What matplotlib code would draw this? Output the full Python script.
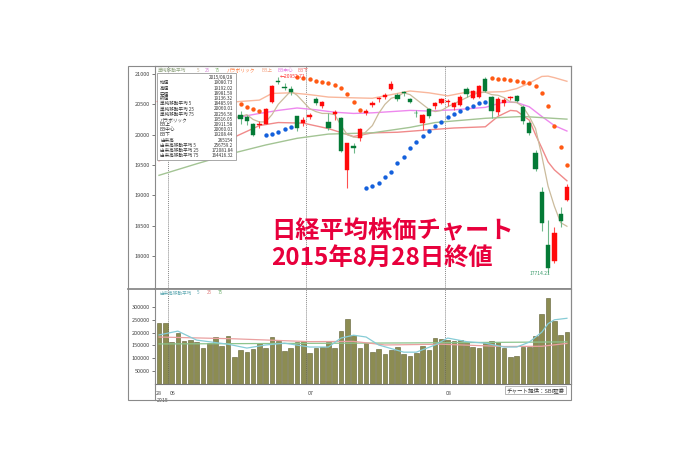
import numpy as np
import pandas as pd
import matplotlib
matplotlib.use("Agg")
import matplotlib.pyplot as plt
from matplotlib.patches import Rectangle
from matplotlib.lines import Line2D

plt.rcParams['font.family'] = ['Noto Sans CJK JP', 'DejaVu Sans']

# ---------------- data ----------------
dates = pd.bdate_range('2015-05-28', '2015-08-28')
dates = dates[dates != pd.Timestamp('2015-07-20')]  # 海の日

opens = [20540, 20580, 20570, 20600, 20490, 20530, 20480, 20470, 20310, 20040, 20280, 20470, 20250,
         20330, 20290, 20180, 20160, 20180, 20540, 20890, 20790, 20760,
         20300, 20190, 20290, 20580, 20470, 20210, 20340, 20270, 19420, 19815, 19950, 20350, 20490, 20580,
         20620, 20755, 20650, 20700, 20590, 20360, 20195, 20420, 20470, 20520,
         20540, 20460, 20490, 20750, 20605, 20620, 20920, 20620, 20380, 20530, 20600, 20640, 20460, 20200,
         19700, 19060, 18180, 17910, 18690, 18930]
highs = [20600, 20655, 20600, 20650, 20520, 20590, 20530, 20520, 20340, 20120, 20420, 20480, 20390,
         20390, 20320, 20200, 20220, 20440, 20820, 20952, 20860, 20800,
         20300, 20290, 20360, 20620, 20560, 20360, 20400, 20290, 19870, 19870, 20110, 20420, 20560, 20620,
         20680, 20890, 20680, 20720, 20610, 20400, 20340, 20440, 20540, 20600,
         20580, 20540, 20650, 20790, 20730, 20820, 20946, 20640, 20620, 20610, 20640, 20660, 20490, 20230,
         19740, 19140, 18600, 18480, 18800, 19192]
lows = [20510, 20540, 20490, 20500, 20390, 20450, 20420, 20420, 20060, 19930, 20270, 20380, 20190,
        20170, 20160, 19980, 20110, 20170, 20530, 20840, 20740, 20650,
        20060, 20150, 20260, 20490, 20440, 20080, 20250, 19720, 19115, 19690, 19900, 20320, 20450, 20540,
        20590, 20740, 20560, 20640, 20520, 20290, 20080, 20270, 20430, 20500,
        20480, 20400, 20480, 20620, 20580, 20600, 20700, 20280, 20325, 20480, 20570, 20540, 20180, 20000,
        19400, 18420, 17714, 17880, 18480, 18900]
closes = [20551, 20563, 20569, 20543, 20473, 20488, 20460, 20457, 20096, 20046, 20382, 20407, 20387,
          20257, 20219, 19990, 20174, 20428, 20809, 20868, 20771, 20706,
          20110, 20235, 20329, 20522, 20539, 20112, 20376, 19737, 19855, 19779, 20089, 20385, 20520, 20600,
          20650, 20836, 20593, 20683, 20544, 20350, 20328, 20302, 20523, 20585,
          20548, 20520, 20614, 20664, 20724, 20808, 20720, 20392, 20595, 20570, 20620, 20554, 20222, 20033,
          19435, 18540, 17806, 18376, 18574, 19136]

volume = [238000, 238000, 162000, 200000, 167000, 171000, 164000, 139000, 160000, 182000, 149000,
          188000, 106000, 132000, 123000, 135000, 159000, 139000, 183000, 167000, 128000, 140000,
          164000, 167000, 122000, 139000, 146000, 162000, 139000, 206000, 253000,
          191000, 139000, 160000, 125000, 136000, 118000, 132000, 144000, 116000, 110000, 120000,
          148000, 132000, 180000, 175000, 171000, 167000, 171000, 164000, 146000, 139000, 158000,
          168000, 164000, 139000, 106000, 111000, 145000, 146000, 188000, 271000, 334000, 245000,
          191000, 204000]

sma5 = [20540, 20560, 20560, 20560, 20540, 20530, 20500, 20480, 20400, 20310, 20290, 20280, 20280,
        20300, 20330, 20250, 20210, 20210, 20330, 20500, 20610, 20720, 20650, 20540, 20430, 20380,
        20350, 20350, 20330, 20150, 20000, 19960, 19950, 20050, 20150, 20350, 20500, 20600, 20630,
        20690, 20660, 20580, 20500, 20420, 20380, 20400, 20460, 20510, 20560, 20610, 20660, 20690,
        20700, 20660, 20650, 20610, 20540, 20530, 20460, 20300, 20100, 19650, 19150, 18820, 18550, 18490]

sma75_idx = [0, 6, 12, 17, 22, 27, 34, 40, 44, 52, 58, 65]
sma75 = [19330, 19520, 19700, 19830, 19940, 20010, 20030, 20120, 20200, 20270, 20300, 20256]

bb_up_idx = [0, 4, 8, 12, 16, 18, 21, 24, 27, 30, 34, 37, 40, 43, 46, 49, 52, 55, 57, 59, 61, 62, 63, 65]
bb_up = [20650, 20700, 20720, 20540, 20570, 20680, 20690, 20660, 20620, 20610, 20600, 20660, 20720,
         20690, 20640, 20700, 20700, 20710, 20760, 20850, 20960, 20965, 20940, 20880]
bb_mid_idx = [0, 4, 8, 12, 16, 19, 22, 25, 28, 31, 34, 37, 40, 43, 47, 52, 55, 57, 59, 61, 63, 65]
bb_mid = [20300, 20330, 20300, 20275, 20350, 20400, 20440, 20410, 20370, 20350, 20360, 20380, 20400,
          20390, 20410, 20450, 20540, 20530, 20460, 20300, 20150, 20060]
bb_lo_idx = [0, 4, 8, 12, 16, 19, 23, 27, 31, 34, 38, 43, 47, 52, 54, 56, 57, 59, 60, 61, 62, 63, 65]
bb_lo = [19570, 19700, 19850, 19960, 20150, 20200, 20190, 20100, 19970, 20030, 20040, 20080, 20110,
         20130, 20300, 20400, 20390, 20240, 20000, 19780, 19550, 19420, 19240]

sar_short_idx = [13, 14, 15, 16, 22, 23, 24, 25, 26, 27, 28, 29, 30, 31, 32,
                 53, 54, 55, 56, 57, 58, 59, 60, 61, 62, 63, 64, 65]
sar_short = [20506, 20456, 20423, 20390, 20951, 20934, 20918, 20885, 20868, 20852, 20819, 20770, 20670,
             20540, 20410, 20934, 20918, 20910, 20901, 20885, 20868, 20852, 20802, 20687, 20473, 20143,
             19797, 19500]
sar_long_idx = [17, 18, 19, 20, 21] + list(range(33, 53))
sar_long = [19995, 20011, 20044, 20094, 20127,
            19125, 19160, 19210, 19300, 19380, 19530, 19630, 19780, 19880, 19978, 20060, 20143, 20209,
            20291, 20340, 20390, 20440, 20473, 20522, 20539]

vma5_idx = [0, 3, 6, 11, 14, 17, 20, 24, 27, 29, 31, 33, 35, 39, 41, 44, 46, 49, 52, 55, 57, 59, 61, 62, 63, 65]
vma5 = [191000, 206000, 171000, 155000, 140000, 152000, 159000, 144000, 144000, 179000, 190000, 183000,
        152000, 124000, 124000, 152000, 179000, 165000, 159000, 144000, 144000, 163000, 202000, 235000,
        250000, 256000]
vma25_idx = [0, 12, 24, 31, 36, 45, 55, 61, 65]
vma25 = [183000, 176000, 165000, 166000, 152000, 155000, 146000, 147000, 158000]
vma75_idx = [0, 20, 40, 65]
vma75 = [156000, 158000, 160000, 164000]

info_rows = [("始値", "19080.73"), ("高値", "19192.02"), ("安値", "18981.59"), ("終値", "19136.32"),
             ("単純移動平均 5", "18485.99"), ("単純移動平均 25", "20060.01"), ("単純移動平均 75", "20256.56"),
             ("パラボリック", "19516.05"), ("BB上", "20911.58"), ("BB中心", "20060.01"), ("BB下", "19208.44"),
             ("出来高", "265154"), ("出来高移動平均 5", "256759.2"), ("出来高移動平均 25", "172081.84"),
             ("出来高移動平均 75", "164416.32")]

price_ticks = [18000, 18500, 19000, 19500, 20000, 20500, 21000]
vol_ticks = [50000, 100000, 150000, 200000, 250000, 300000]

# ---------------- figure ----------------
W, H = 700, 467
fig = plt.figure(figsize=(7, 4.67), dpi=100)
fig.patch.set_facecolor('white')


def fx(px):
    return px / W


def fy(py):
    return 1 - py / H


ax = fig.add_axes([fx(155), fy(289), fx(571) - fx(155), fy(66) - fy(289)])
axv = fig.add_axes([fx(155), fy(384), fx(571) - fx(155), fy(289) - fy(384)])

x = np.arange(len(opens))
o = np.array(opens); c = np.array(closes)
up = c >= o
red = '#ff0a0a'
green = '#047a36'
col = np.where(up, red, green)
wick_col = np.where(up, '#ff5050', '#6fb88a')

# month separators
months = np.array([d.month for d in dates])
bounds = [i - 0.5 for i in range(1, len(dates)) if months[i] != months[i - 1]]

for a in (ax, axv):
    for b in bounds:
        a.axvline(b, color='#888888', ls=(0, (1, 1)), lw=0.7, zorder=1)

# price panel lines
ax.plot(bb_up_idx, bb_up, color='#f9b79c', lw=1.0, zorder=2)
ax.plot(bb_lo_idx, bb_lo, color='#f08a8a', lw=1.0, zorder=2)
ax.plot(bb_mid_idx, bb_mid, color='#ee88ee', lw=1.0, zorder=2)
ax.plot(sma75_idx, sma75, color='#a3c494', lw=1.0, zorder=2)
ax.plot(x, sma5, color='#cbbb9c', lw=0.9, zorder=2)

# candles
ax.vlines(x, lows, highs, colors=wick_col, lw=0.8, zorder=3)
body = np.maximum(np.abs(c - o), 14)
ax.bar(x, body, bottom=np.minimum(o, c), width=0.68, color=col, edgecolor=col, lw=0.3, zorder=4)

# parabolic SAR
ax.scatter(sar_short_idx, sar_short, s=10, color='#ff5a14', lw=0, zorder=5)
ax.scatter(sar_long_idx, sar_long, s=10, color='#1460dc', lw=0, zorder=5)

ax.text(19.3, 20958, "←20952.71", fontsize=3.6, color='#ff3030', va='center', ha='left', zorder=6)
ax.text(62.4, 17714, "17714.21", fontsize=3.6, color='#3a9a6a', va='center', ha='right', zorder=6)

ax.set_xlim(-0.64, 65.65)
ax.set_ylim(17456, 21132)
ax.set_yticks(price_ticks)
ax.set_yticklabels([str(t) for t in price_ticks])
ax.set_xticks([])
ax.tick_params(axis='y', labelsize=4, colors='#444444', length=2, width=0.5, pad=1.5)

# volume panel
axv.bar(x, volume, width=0.74, color='#8c8c52', edgecolor='#5e5e32', lw=0.4, zorder=2)
axv.plot(vma75_idx, vma75, color='#8cc48c', lw=0.9, zorder=3)
axv.plot(vma25_idx, vma25, color='#eaa0a0', lw=0.9, zorder=3)
axv.plot(vma5_idx, vma5, color='#86ccd6', lw=0.9, zorder=3)
axv.set_xlim(-0.64, 65.65)
axv.set_ylim(0, 370000)
axv.set_yticks(vol_ticks)
axv.set_yticklabels([str(t) for t in vol_ticks])
axv.set_xticks([])
axv.tick_params(axis='y', labelsize=4, colors='#444444', length=2, width=0.5, pad=1.5)

for a in (ax, axv):
    for s in a.spines.values():
        s.set_color('#8a8a8a')
        s.set_linewidth(0.8)
ax.spines['bottom'].set_linewidth(1.3)
axv.spines['top'].set_linewidth(1.3)
axv.spines['bottom'].set_color('#777777')

# date labels under the volume panel
axv.text(0, -0.07, str(dates[0].day), transform=axv.get_xaxis_transform(), fontsize=3.8,
         color='#444444', ha='center', va='top')
for b in bounds:
    m = dates[int(b + 0.5)].month
    axv.text(b + 0.15, -0.07, f"{m:02d}", transform=axv.get_xaxis_transform(), fontsize=3.8,
             color='#444444', ha='left', va='top')
axv.text(-0.4, -0.15, str(dates[0].year), transform=axv.get_xaxis_transform(), fontsize=3.8,
         color='#444444', ha='left', va='top')

# outer frame and separators
fig.add_artist(Rectangle((fx(128), fy(400)), fx(571) - fx(128), fy(66) - fy(400),
                         transform=fig.transFigure, fill=False, edgecolor='#8a8a8a', lw=0.8))
fig.add_artist(Line2D([fx(128), fx(155)], [fy(289), fy(289)], transform=fig.transFigure,
                      color='#8a8a8a', lw=1.3))
fig.add_artist(Line2D([fx(155), fx(155)], [fy(384), fy(400)], transform=fig.transFigure,
                      color='#8a8a8a', lw=0.8))

# legends
price_leg = [("単純移動平均", '#8fa47f', 158), ("5", '#c2ae90', 197), ("25", '#d889d8', 205),
             ("75", '#8cbc7c', 215), ("パラボリック", '#ff7a3c', 227), ("BB上", '#f4a484', 262),
             ("BB中心", '#e57ae5', 277), ("BB下", '#f07878', 297)]
for t, cc, px in price_leg:
    fig.text(fx(px), fy(70), t, fontsize=3.4, color=cc, ha='left', va='center')
vol_leg = [("出来高移動平均", '#5fa9b2', 159), ("5", '#5fa9b2', 197), ("25", '#e08080', 207),
           ("75", '#70b070', 218)]
for t, cc, px in vol_leg:
    fig.text(fx(px), fy(293), t, fontsize=3.3, color=cc, ha='left', va='center')

# info box
fig.add_artist(Rectangle((fx(157), fy(160)), fx(236) - fx(157), fy(73) - fy(160),
                         transform=fig.transFigure, facecolor='white', edgecolor='#9a9a9a',
                         lw=0.6, zorder=10))
fig.text(fx(233), fy(77.5), dates[-1].strftime('%Y/%m/%d'), fontsize=3.3, color='#333333',
         ha='right', va='center', zorder=11)
for k, (lab, val) in enumerate(info_rows):
    yy = 83 + k * 5.2
    fig.text(fx(160), fy(yy), lab, fontsize=3.3, color='#333333', ha='left', va='center', zorder=11)
    fig.text(fx(233), fy(yy), val, fontsize=3.3, color='#333333', ha='right', va='center', zorder=11)

fig.text(fx(565), fy(390), "チャート提供：SBI証券", fontsize=4.0, color='#333333', ha='right', va='center',
         bbox=dict(boxstyle='square,pad=0.25', facecolor='white', edgecolor='#999999', lw=0.5))

# title overlay
fig.text(fx(271), fy(231), "日経平均株価チャート", fontsize=17.5, fontweight='bold',
         color='#e8003c', ha='left', va='center', zorder=12)
fig.text(fx(271), fy(259), "2015年8月28日終値", fontsize=17.5, fontweight='bold',
         color='#e8003c', ha='left', va='center', zorder=12)

fig.savefig('out.png', dpi=100)
